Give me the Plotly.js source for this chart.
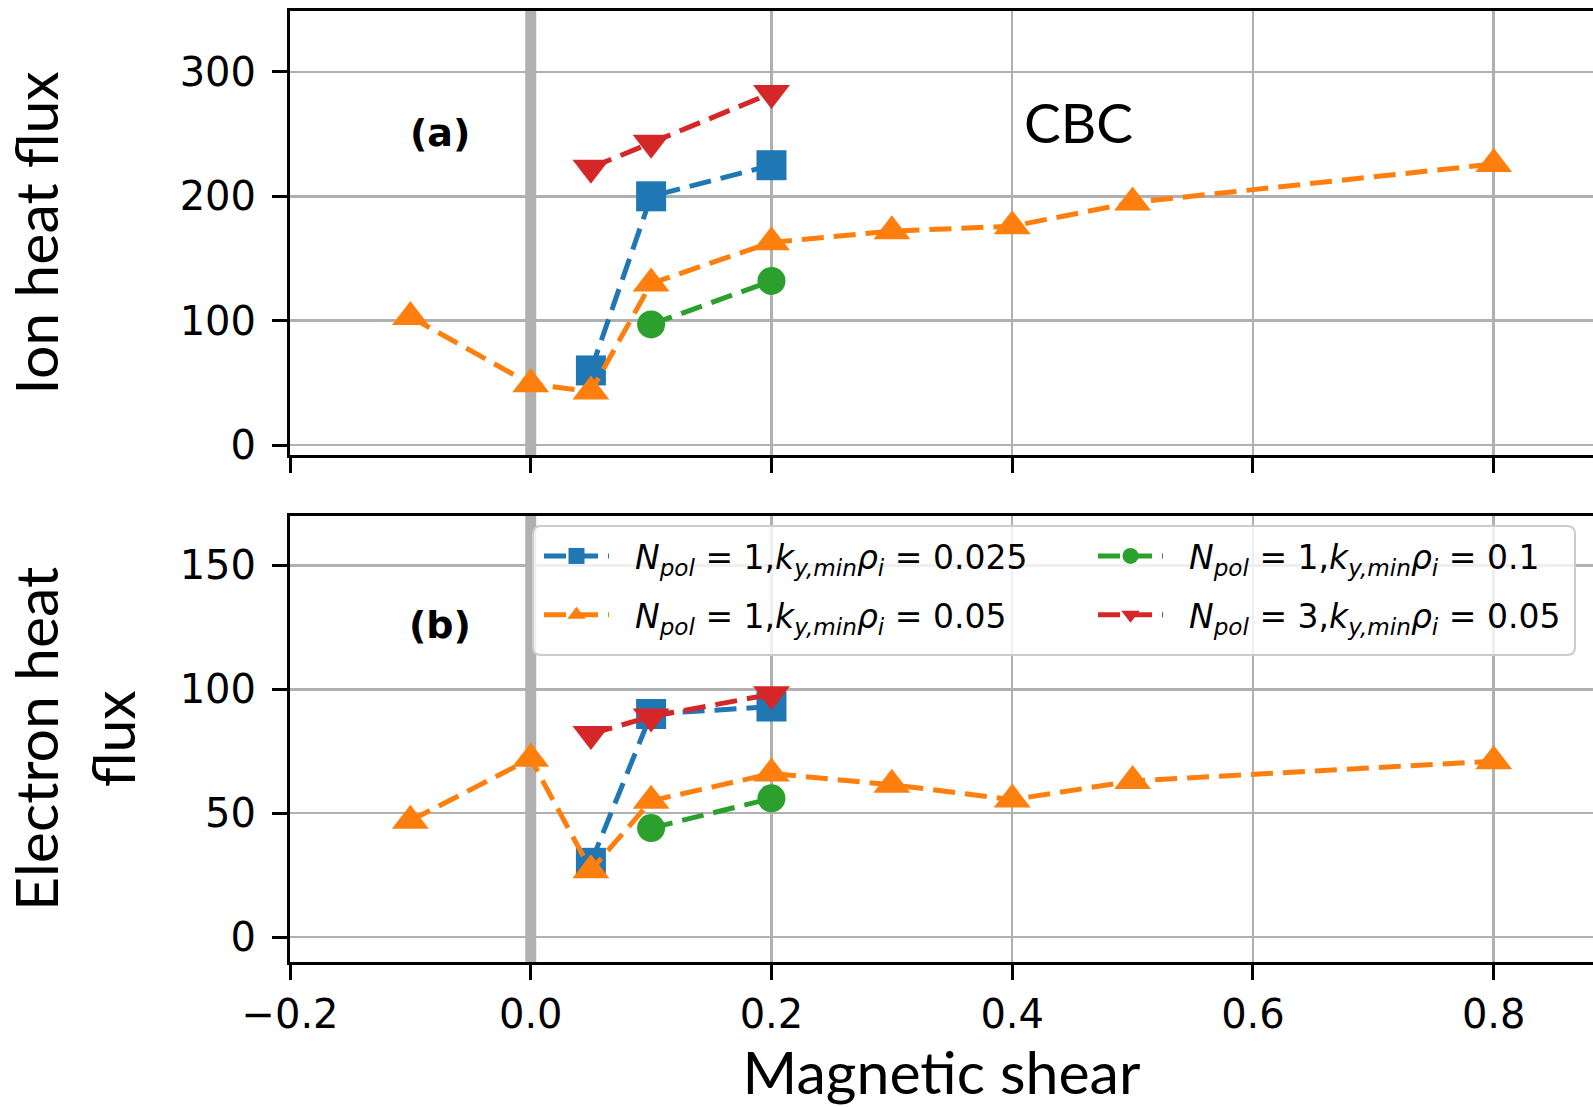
<!DOCTYPE html>
<html>
<head>
<meta charset="utf-8">
<script src="https://cdn.plot.ly/plotly-3.0.1.min.js"></script>
<style>html,body{margin:0;padding:0;background:#fff;}#chart{width:1593px;height:1107px;}</style>
</head>
<body>
<div id="chart"></div>
<script>
// ---- data ----
const seriesNames = [
  "<i>N</i><sub><i>pol</i></sub> = 1,<i>k</i><sub><i>y,min</i></sub><i>ρ</i><sub><i>i</i></sub> = 0.025",
  "<i>N</i><sub><i>pol</i></sub> = 1,<i>k</i><sub><i>y,min</i></sub><i>ρ</i><sub><i>i</i></sub> = 0.05",
  "<i>N</i><sub><i>pol</i></sub> = 1,<i>k</i><sub><i>y,min</i></sub><i>ρ</i><sub><i>i</i></sub> = 0.1",
  "<i>N</i><sub><i>pol</i></sub> = 3,<i>k</i><sub><i>y,min</i></sub><i>ρ</i><sub><i>i</i></sub> = 0.05"
];
const shearBlue = [0.05, 0.1, 0.2];
const ionBlue = [60, 200, 225];
const eleBlue = [30, 90, 93];

const shearOrange = [-0.1, 0.0, 0.05, 0.1, 0.2, 0.3, 0.4, 0.5, 0.8];
const ionOrange = [103, 49, 43, 130, 163, 172, 176, 195, 226];
const eleOrange = [47, 72, 27, 55, 66, 61.5, 55.5, 63, 71];

const shearGreen = [0.1, 0.2];
const ionGreen = [97, 132];
const eleGreen = [44, 56];

const shearRed = [0.05, 0.1, 0.2];
const ionRed = [223, 243, 283];
const eleRed = [82, 89, 98];

const xTicks = [-0.2, 0.0, 0.2, 0.4, 0.6, 0.8];
const xTickText = ["\u22120.2", "0.0", "0.2", "0.4", "0.6", "0.8"];
const ionTicks = [0, 100, 200, 300];
const eleTicks = [0, 50, 100, 150];

// ---- styles ----
const colors = ["#1f77b4", "#ff7f0e", "#2ca02c", "#d62728"];
const symbols = ["square", "triangle-up", "circle", "triangle-down"];
const sizes = [30, 32, 28, 32];
const dash = "22px,10px";
const gapPrefix = "\u00a0\u00a0";

const groups = [
  {x: shearBlue, ion: ionBlue, ele: eleBlue, legend: "legend", rank: 1},
  {x: shearOrange, ion: ionOrange, ele: eleOrange, legend: "legend", rank: 2},
  {x: shearGreen, ion: ionGreen, ele: eleGreen, legend: "legend2", rank: 1},
  {x: shearRed, ion: ionRed, ele: eleRed, legend: "legend2", rank: 2}
];

const traces = [];
groups.forEach((g, i) => {
  const common = {
    mode: "lines+markers",
    line: {color: colors[i], width: 5, dash: dash},
    marker: {color: colors[i], symbol: symbols[i], size: sizes[i], line: {width: 0}},
    name: gapPrefix + seriesNames[i],
    hoverinfo: "x+y"
  };
  traces.push(Object.assign({}, common, {x: g.x, y: g.ion, xaxis: "x", yaxis: "y", showlegend: false}));
  traces.push(Object.assign({}, common, {x: g.x, y: g.ele, xaxis: "x2", yaxis: "y2",
    showlegend: true, legend: g.legend, legendgroup: "g" + i, legendrank: g.rank}));
});

const W = 1593, H = 1107;
const mL = 290, mR = 0, mT = 11, mB = 145;
const pw = W - mL - mR, ph = H - mT - mB;
const px2x = p => (p - mL) / pw;
const py2y = p => (H - mB - p) / ph;

const tickFont = {family: "DejaVu Sans", size: 40, color: "#000"};
const titleFont = {family: "Lato, 'Open Sans', sans-serif", size: 59, color: "#000"};
const legendFont = {family: "DejaVu Sans", size: 33, color: "#000"};

const xBase = {
  range: [-0.2, 0.8825],
  tickvals: xTicks, ticktext: xTickText,
  showgrid: true, gridcolor: "#b0b0b0", gridwidth: 2.5,
  zeroline: false,
  showline: true, linecolor: "#000", linewidth: 3, mirror: true,
  ticks: "outside", ticklen: 15, tickwidth: 3, tickcolor: "#000",
  tickfont: tickFont
};
const yBase = {
  showgrid: true, gridcolor: "#b0b0b0", gridwidth: 2.5,
  zeroline: false,
  showline: true, linecolor: "#000", linewidth: 3, mirror: false,
  ticks: "outside", ticklen: 15, tickwidth: 3, tickcolor: "#000",
  tickfont: tickFont, ticklabelstandoff: 8
};

// legend frame (rounded)
const bx0 = px2x(533), bx1 = px2x(1575), by0 = py2y(655), by1 = py2y(526);
const rx = 8 / pw, ry = 8 / ph;
const boxPath = `M ${bx0 + rx},${by1} L ${bx1 - rx},${by1} Q ${bx1},${by1} ${bx1},${by1 - ry} ` +
  `L ${bx1},${by0 + ry} Q ${bx1},${by0} ${bx1 - rx},${by0} L ${bx0 + rx},${by0} ` +
  `Q ${bx0},${by0} ${bx0},${by0 + ry} L ${bx0},${by1 - ry} Q ${bx0},${by1} ${bx0 + rx},${by1} Z`;

const layout = {
  width: W, height: H,
  margin: {l: mL, r: mR, t: mT, b: mB, pad: 0},
  paper_bgcolor: "#fff", plot_bgcolor: "#fff",
  showlegend: true,
  xaxis: Object.assign({}, xBase, {anchor: "y", showticklabels: false, matches: "x2"}),
  xaxis2: Object.assign({}, xBase, {anchor: "y2", ticklabelstandoff: 0,
    title: {text: "Magnetic shear", font: titleFont, standoff: 38}}),
  yaxis: Object.assign({}, yBase, {domain: [0.5331, 1], range: [-8, 349], tickvals: ionTicks,
    title: {text: "Ion heat flux", font: titleFont, standoff: 118}}),
  yaxis2: Object.assign({}, yBase, {domain: [0, 0.4693], range: [-10, 170], tickvals: eleTicks,
    title: {text: "Electron heat<br>flux", font: titleFont, standoff: 44}}),
  legend: {
    x: px2x(539), y: py2y(528), xanchor: "left", yanchor: "top",
    bgcolor: "rgba(0,0,0,0)", borderwidth: 0, font: legendFont,
    itemwidth: 65, itemsizing: "trace", tracegroupgap: 13, traceorder: "grouped"
  },
  legend2: {
    x: px2x(1093), y: py2y(528), xanchor: "left", yanchor: "top",
    bgcolor: "rgba(0,0,0,0)", borderwidth: 0, font: legendFont,
    itemwidth: 65, itemsizing: "trace", tracegroupgap: 13, traceorder: "grouped"
  },
  shapes: [
    {type: "line", xref: "x", yref: "y domain", x0: 0, x1: 0, y0: 0, y1: 1,
     line: {color: "#b0b0b0", width: 11}, layer: "below"},
    {type: "line", xref: "x2", yref: "y2 domain", x0: 0, x1: 0, y0: 0, y1: 1,
     line: {color: "#b0b0b0", width: 11}, layer: "below"},
    {type: "path", xref: "paper", yref: "paper", path: boxPath,
     fillcolor: "rgba(255,255,255,0.8)", line: {color: "#cccccc", width: 2}, layer: "above"}
  ],
  annotations: [
    {text: "<b>(a)</b>", x: -0.075, y: 251, xref: "x", yref: "y", showarrow: false,
     font: {family: "DejaVu Sans", size: 38, color: "#000"}},
    {text: "<b>(b)</b>", x: -0.075, y: 126, xref: "x2", yref: "y2", showarrow: false,
     font: {family: "DejaVu Sans", size: 38, color: "#000"}},
    {text: "CBC", x: 0.408, y: 260, xref: "x", yref: "y", xanchor: "left", showarrow: false,
     font: {family: "Lato, 'Open Sans', sans-serif", size: 55, color: "#000"}}
  ]
};

Plotly.newPlot("chart", traces, layout, {staticPlot: true, displayModeBar: false});
</script>
</body>
</html>
